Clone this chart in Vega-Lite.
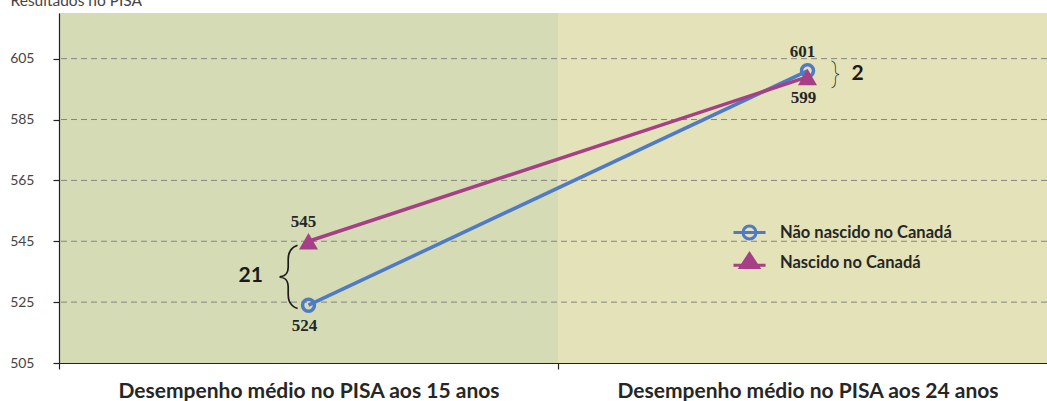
{
  "$schema": "https://vega.github.io/schema/vega-lite/v6.json",
  "autosize": {"type": "none"},
  "padding": {"left": 59, "top": 13, "right": 0, "bottom": 38},
  "width": 998,
  "height": 350,
  "background": "#ffffff",
  "config": {"view": {"stroke": null}, "font": "Lato"},
  "datasets": {
    "scores": [
      {"period": "Desempenho médio no PISA aos 15 anos", "group": "Não nascido no Canadá", "score": 524},
      {"period": "Desempenho médio no PISA aos 24 anos", "group": "Não nascido no Canadá", "score": 601},
      {"period": "Desempenho médio no PISA aos 15 anos", "group": "Nascido no Canadá", "score": 545},
      {"period": "Desempenho médio no PISA aos 24 anos", "group": "Nascido no Canadá", "score": 599}
    ],
    "periods": [
      {"period": "Desempenho médio no PISA aos 15 anos"},
      {"period": "Desempenho médio no PISA aos 24 anos"}
    ],
    "grid": [{"score": 525}, {"score": 545}, {"score": 565}, {"score": 585}, {"score": 605}]
  },
  "encoding": {
    "x": {
      "field": "period", "type": "nominal", "sort": null,
      "scale": {"domain": ["Desempenho médio no PISA aos 15 anos", "Desempenho médio no PISA aos 24 anos"], "paddingInner": 0, "paddingOuter": 0},
      "axis": {
        "title": null, "labelAngle": 0, "labelFont": "Lato", "labelFontWeight": "bold", "labelFontSize": 21, "labelLimit": 0,
        "labelColor": "#262626", "labelPadding": 11, "tickBand": "extent", "tickSize": 6, "tickColor": "#222222",
        "domainColor": "#222222", "domainWidth": 1.2, "tickWidth": 1.2, "zindex": 1
      }
    },
    "y": {
      "field": "score", "type": "quantitative",
      "scale": {"domain": [505, 620], "nice": false, "zero": false},
      "axis": {
        "values": [505, 525, 545, 565, 585, 605], "grid": false, "title": "Resultados no PISA",
        "titleAngle": 0, "titleAlign": "left", "titleBaseline": "alphabetic", "titleX": -49, "titleY": -8,
        "titleFont": "Lato", "titleFontWeight": "normal", "titleFontSize": 15.5, "titleColor": "#444444", "titleLimit": 0,
        "labelFont": "Lato", "labelFontSize": 14, "labelColor": "#444444", "labelPadding": 19,
        "tickSize": 6, "tickColor": "#222222", "tickWidth": 1.2, "domainColor": "#222222", "domainWidth": 1.2, "zindex": 1
      }
    }
  },
  "layer": [
    {
      "data": {"name": "periods"},
      "mark": {"type": "rect"},
      "encoding": {
        "y": null,
        "fill": {"condition": {"test": "datum.period === 'Desempenho médio no PISA aos 15 anos'", "value": "#D5DBB5"}, "value": "#E3E2B8"}
      }
    },
    {
      "data": {"name": "grid"},
      "mark": {"type": "rule", "stroke": "#858580", "strokeWidth": 1, "strokeDash": [6, 4]},
      "encoding": {"x": null}
    },
    {
      "data": {"name": "scores"},
      "mark": {"type": "line", "strokeWidth": 3.5},
      "encoding": {
        "detail": {"field": "group"},
        "color": {"condition": {"test": "datum.group === 'Nascido no Canadá'", "value": "#A73F87"}, "value": "#4F7BC6"}
      }
    },
    {
      "data": {"name": "scores"},
      "transform": [{"filter": "datum.group === 'Não nascido no Canadá'"}],
      "mark": {"type": "point", "shape": "circle", "filled": false, "size": 143, "strokeWidth": 3.5, "color": "#4F7BC6", "opacity": 1}
    },
    {
      "data": {"name": "scores"},
      "transform": [{"filter": "datum.group === 'Nascido no Canadá'"}],
      "mark": {"type": "point", "shape": "triangle-up", "filled": true, "size": 360, "color": "#A73F87", "opacity": 1}
    },
    {
      "data": {"name": "scores"},
      "transform": [{"filter": "(datum.group === 'Nascido no Canadá' && datum.score === 545) || (datum.group === 'Não nascido no Canadá' && datum.score === 601)"}],
      "mark": {"type": "text", "font": "Liberation Serif", "fontWeight": "bold", "fontSize": 17, "color": "#262626", "baseline": "alphabetic", "dy": -14, "dx": -5},
      "encoding": {"text": {"field": "score", "type": "quantitative"}}
    },
    {
      "data": {"name": "scores"},
      "transform": [{"filter": "(datum.group === 'Não nascido no Canadá' && datum.score === 524) || (datum.group === 'Nascido no Canadá' && datum.score === 599)"}],
      "mark": {"type": "text", "font": "Liberation Serif", "fontWeight": "bold", "fontSize": 17, "color": "#262626", "baseline": "alphabetic", "dy": 26, "dx": -4},
      "encoding": {"text": {"field": "score", "type": "quantitative"}}
    },
    {
      "data": {"name": "scores"},
      "transform": [{"filter": "datum.score === 524"}],
      "mark": {"type": "text", "font": "Lato", "fontWeight": "bold", "fontSize": 21, "color": "#1a1a1a", "baseline": "alphabetic", "align": "left", "dx": -70, "dy": -23},
      "encoding": {"text": {"value": "21"}}
    },
    {
      "data": {"name": "scores"},
      "transform": [{"filter": "datum.score === 524"}],
      "mark": {"type": "text", "font": "Roboto", "fontWeight": 100, "fontSize": 64, "color": "#1a1a1a", "baseline": "middle", "align": "center", "dx": -21, "dy": -29},
      "encoding": {"text": {"value": "{"}}
    },
    {
      "data": {"name": "scores"},
      "transform": [{"filter": "datum.score === 601"}],
      "mark": {"type": "text", "font": "Lato", "fontWeight": "bold", "fontSize": 21, "color": "#1a1a1a", "baseline": "alphabetic", "align": "left", "dx": 44, "dy": 9},
      "encoding": {"text": {"value": "2"}}
    },
    {
      "data": {"name": "scores"},
      "transform": [{"filter": "datum.score === 601"}],
      "mark": {"type": "text", "font": "Roboto", "fontWeight": 100, "fontSize": 27, "color": "#1a1a1a", "baseline": "middle", "align": "center", "dx": 28, "dy": 3},
      "encoding": {"text": {"value": "}"}}
    },
    {
      "data": {"name": "scores"},
      "mark": {"type": "point", "filled": false, "opacity": 0, "size": 324, "strokeWidth": 3},
      "encoding": {
        "color": {
          "field": "group", "type": "nominal",
          "scale": {"domain": ["Não nascido no Canadá", "Nascido no Canadá"], "range": ["#4F7BC6", "#A73F87"]},
          "legend": {
            "title": null, "orient": "none", "legendX": 680, "legendY": 209, "padding": 0,
            "labelFont": "Lato", "labelFontWeight": "bold", "labelFontSize": 16.5, "labelColor": "#262626", "labelLimit": 0,
            "labelOffset": 20, "rowPadding": 2, "symbolStrokeWidth": 3, "symbolOpacity": 1, "symbolSize": 324,
            "encode": {
              "symbols": {
                "update": {
                  "opacity": {"value": 1},
                  "strokeWidth": {"value": 3}
                }
              }
            }
          }
        },
        "fill": {
          "field": "group", "type": "nominal",
          "scale": {"domain": ["Não nascido no Canadá", "Nascido no Canadá"], "range": ["transparent", "#A73F87"]}
        },
        "shape": {
          "field": "group", "type": "nominal",
          "scale": {
            "domain": ["Não nascido no Canadá", "Nascido no Canadá"],
            "range": [
              "M-1.78,0L1.78,0M-0.72,0A0.72,0.72,0,1,1,0.72,0A0.72,0.72,0,1,1,-0.72,0Z",
              "M-1.78,0.3L1.78,0.3M0,-0.97L1,0.56L-1,0.56Z"
            ]
          }
        }
      }
    }
  ]
}
